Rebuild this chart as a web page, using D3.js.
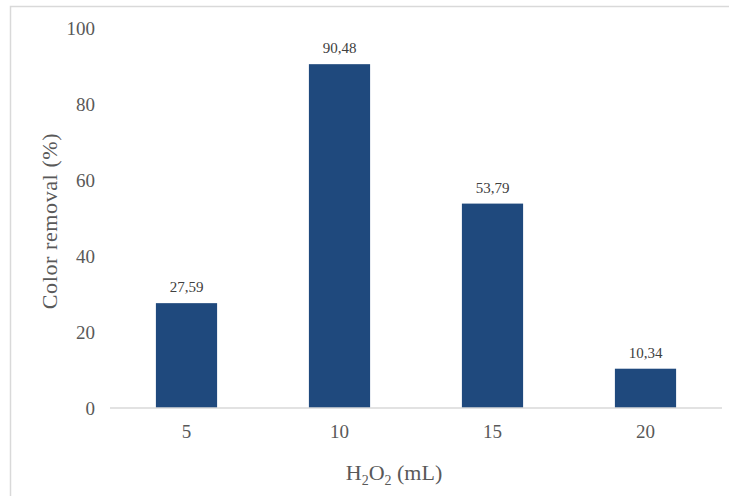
<!DOCTYPE html>
<html><head><meta charset="utf-8">
<script src="https://cdn.jsdelivr.net/npm/d3@7"></script>
<style>body{margin:0;background:#fff}svg{display:block}
svg text{font-family:"Liberation Serif","Times New Roman","DejaVu Serif",serif;}</style>
</head><body>
<script>
const categories = ["5", "10", "15", "20"];
const values = [27.59, 90.48, 53.79, 10.34];
const valueLabels = ["27,59", "90,48", "53,79", "10,34"];
const yTicks = [0, 20, 40, 60, 80, 100];

const W = 729, H = 496;
const svg = d3.select("body").append("svg").attr("width", W).attr("height", H);
svg.append("rect").attr("x", 10.5).attr("y", 6.5).attr("width", 740).attr("height", 520)
  .attr("fill", "#fff").attr("stroke", "#d9d9d9").attr("stroke-width", 1.5);

const x = d3.scaleBand().domain(categories).range([110, 722]).paddingInner(0.6).paddingOuter(0.3);
const y = d3.scaleLinear().domain([0, 100]).range([408, 28]);
const grey = "#595959";

// y tick labels
svg.append("g").selectAll("text").data(yTicks).join("text")
  .attr("x", 95).attr("y", d => y(d)).attr("dy", "0.35em")
  .attr("text-anchor", "end").attr("font-size", 19)
  .attr("fill", grey).text(d => d);

// bars
svg.append("g").selectAll("rect").data(values).join("rect")
  .attr("x", (d, i) => x(categories[i])).attr("width", x.bandwidth())
  .attr("y", d => y(d)).attr("height", d => y(0) - y(d)).attr("fill", "#1f497d");

// baseline
svg.append("line").attr("x1", 110).attr("x2", 722).attr("y1", y(0)).attr("y2", y(0))
  .attr("stroke", "#d9d9d9").attr("stroke-width", 1.5);

// value labels
svg.append("g").selectAll("text").data(values).join("text")
  .attr("x", (d, i) => x(categories[i]) + x.bandwidth() / 2).attr("y", d => y(d) - 11)
  .attr("text-anchor", "middle").attr("font-size", 15)
  .attr("fill", "#404040").text((d, i) => valueLabels[i]);

// x tick labels
svg.append("g").selectAll("text").data(categories).join("text")
  .attr("x", d => x(d) + x.bandwidth() / 2).attr("y", 438)
  .attr("text-anchor", "middle").attr("font-size", 19)
  .attr("fill", grey).text(d => d);

// x axis title
const xt = svg.append("text").attr("x", 394).attr("y", 480).attr("text-anchor", "middle")
  .attr("font-size", 22).attr("fill", grey);
xt.append("tspan").text("H");
xt.append("tspan").attr("font-size", 14).attr("dy", 5).text("2");
xt.append("tspan").attr("dy", -5).text("O");
xt.append("tspan").attr("font-size", 14).attr("dy", 5).text("2");
xt.append("tspan").attr("dy", -5).text(" (mL)");

// y axis title
svg.append("text").attr("transform", "translate(57,221) rotate(-90)")
  .attr("text-anchor", "middle").attr("font-size", 22)
  .attr("fill", grey).attr("letter-spacing", 0.6).text("Color removal (%)");
</script>
</body></html>
